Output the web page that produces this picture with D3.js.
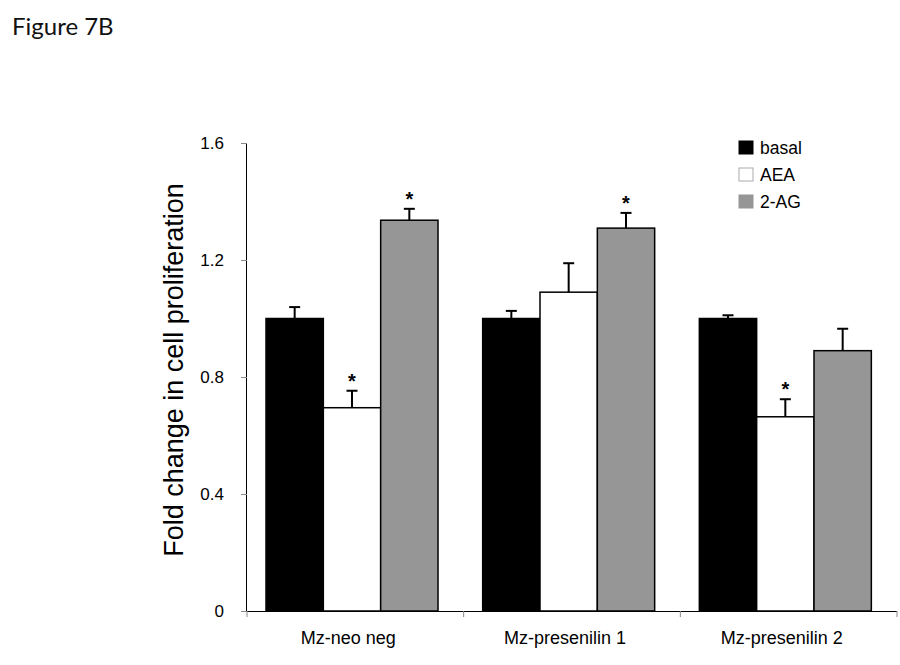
<!DOCTYPE html>
<html><head><meta charset="utf-8">
<script src="https://cdn.jsdelivr.net/npm/d3@7"></script>
<style>body{margin:0;background:#fff}svg{display:block}</style>
</head><body>
<svg id="c" width="900" height="665"></svg>
<script>
const groups = ["Mz-neo neg", "Mz-presenilin 1", "Mz-presenilin 2"];
const series = ["basal", "AEA", "2-AG"];
const colors = ["#000000", "#ffffff", "#969696"];
const basal = [1.0, 1.0, 1.0];
const aea = [0.695, 1.09, 0.664];
const ag2 = [1.336, 1.309, 0.89];
const basalErr = [0.039, 0.026, 0.011];
const aeaErr = [0.058, 0.099, 0.060];
const ag2Err = [0.039, 0.052, 0.075];
const basalSig = [false, false, false];
const aeaSig = [true, false, true];
const ag2Sig = [true, true, false];
const yTicks = [0, 0.4, 0.8, 1.2, 1.6];
const yTickLabels = ["0", "0.4", "0.8", "1.2", "1.6"];

const vals = [basal, aea, ag2], errs = [basalErr, aeaErr, ag2Err], sigs = [basalSig, aeaSig, ag2Sig];
const data = [];
groups.forEach((g, gi) => series.forEach((s, si) => data.push({g, s, si, v: vals[si][gi], e: errs[si][gi], sig: sigs[si][gi]})));

const FONT = "Liberation Sans, Arial, sans-serif";
const svg = d3.select("#c");
const L = 247, R = 897, T = 143, B = 611;
const y = d3.scaleLinear().domain([0, 1.6]).range([B, T]);
const x0 = d3.scaleBand().domain(groups).range([L, R]);
const x1 = d3.scaleBand().domain(series).range([19, 191]);

svg.append("text").attr("x", 12).attr("y", 35).attr("font-family", "Lato, 'Open Sans', sans-serif")
  .attr("font-size", 24).attr("fill", "#111").text("Figure 7B");

// y axis
const ya = svg.append("g").attr("transform", `translate(${L},0)`)
  .call(d3.axisLeft(y).tickValues(yTicks).tickFormat((d, i) => yTickLabels[i]).tickSize(6).tickPadding(17));
ya.select(".domain").attr("d", `M-0.5,${T}V${B}`).attr("stroke", "#000");
ya.selectAll("line").attr("stroke", "#888");
ya.selectAll("text").attr("font-family", FONT).attr("font-size", 17).attr("fill", "#000");

// x axis
const xa = svg.append("g").attr("transform", `translate(0,${B})`);
xa.append("line").attr("x1", L).attr("x2", R).attr("y1", 0.5).attr("y2", 0.5).attr("stroke", "#000");
const bounds = [L].concat(groups.map(g => x0(g) + x0.bandwidth()));
xa.selectAll(".xt").data(bounds).join("line").attr("x1", d => d).attr("x2", d => d)
  .attr("y1", 0).attr("y2", 6).attr("stroke", "#888");
xa.selectAll(".xl").data(groups).join("text")
  .attr("x", d => x0(d) + x0.bandwidth() / 2 - 7).attr("y", 33)
  .attr("text-anchor", "middle").attr("font-family", FONT)
  .attr("font-size", 18).attr("fill", "#000").text(d => d);

// bars
const bx = d => x0(d.g) + x1(d.s);
svg.append("g").selectAll("rect").data(data).join("rect")
  .attr("x", bx).attr("y", d => y(d.v)).attr("width", x1.bandwidth())
  .attr("height", d => y(0) - y(d.v))
  .attr("fill", d => colors[d.si]).attr("stroke", "#000").attr("stroke-width", 1.5);

// error bars
const eb = svg.append("g").attr("stroke", "#000").attr("stroke-width", 2);
data.forEach(d => {
  const cx = bx(d) + x1.bandwidth() / 2;
  eb.append("line").attr("x1", cx).attr("x2", cx).attr("y1", y(d.v)).attr("y2", y(d.v + d.e));
  eb.append("line").attr("x1", cx - 5.5).attr("x2", cx + 5.5).attr("y1", y(d.v + d.e)).attr("y2", y(d.v + d.e));
});

// significance stars
svg.append("g").selectAll("text").data(data.filter(d => d.sig)).join("text")
  .attr("x", d => bx(d) + x1.bandwidth() / 2).attr("y", d => y(d.v + d.e) - 3)
  .attr("text-anchor", "middle").attr("font-family", FONT)
  .attr("font-size", 20).attr("font-weight", "bold").attr("fill", "#000").text("*");

// y label
svg.append("text").attr("transform", `translate(183,370) rotate(-90)`)
  .attr("text-anchor", "middle").attr("font-family", FONT)
  .attr("font-size", 27).attr("fill", "#000").text("Fold change in cell proliferation");

// legend
const lg = svg.append("g").attr("transform", "translate(739,141)");
series.forEach((s, i) => {
  const r = lg.append("g").attr("transform", `translate(0,${i * 27})`);
  r.append("rect").attr("width", 14).attr("height", 13).attr("fill", colors[i])
    .attr("stroke", i === 1 ? "#aaa" : colors[i]).attr("stroke-width", 1);
  r.append("text").attr("x", 21).attr("y", 12.5).attr("font-family", FONT)
    .attr("font-size", 17.5).attr("fill", "#000").text(s);
});
</script>
</body></html>
